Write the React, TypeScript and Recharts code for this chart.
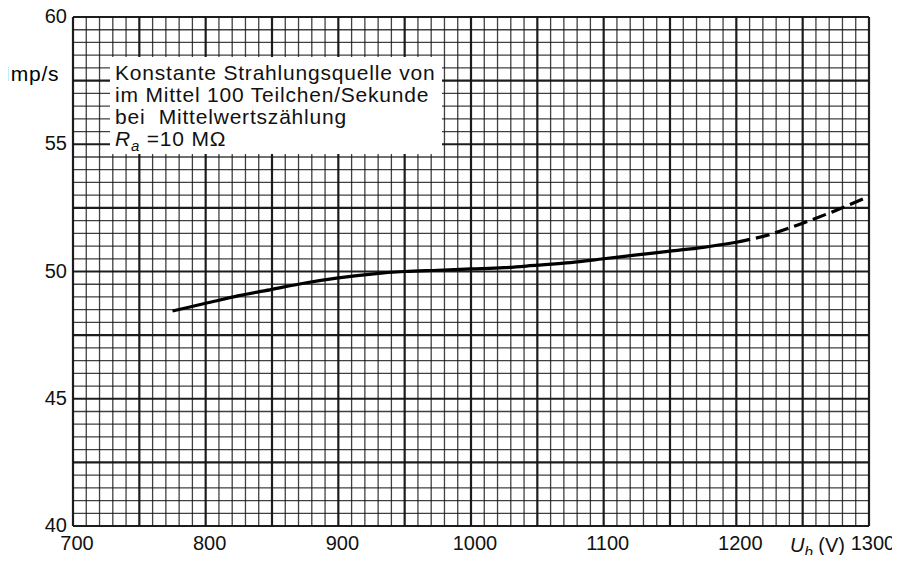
import React from "react";
import { LineChart, Line, XAxis, YAxis, ReferenceLine } from "recharts";

// Measured curve (solid part), Ub in V, counting rate in Imp/s
const voltsSolid = [775, 800, 825, 850, 875, 900, 925, 950, 975, 1000, 1025, 1050, 1075, 1100, 1125, 1150, 1175, 1200];
const impSolid = [48.45, 48.75, 49.05, 49.3, 49.55, 49.75, 49.9, 50.0, 50.05, 50.1, 50.15, 50.25, 50.35, 50.5, 50.65, 50.8, 50.95, 51.15];
// Extrapolated curve (dashed part)
const voltsDashed = [1200, 1225, 1250, 1275, 1300];
const impDashed = [51.15, 51.45, 51.9, 52.4, 52.95];

const xTicks = [700, 800, 900, 1000, 1100, 1200, 1300];
const yTicks = [40, 45, 50, 55, 60];

const annotationLines = [
  "Konstante Strahlungsquelle von",
  "im Mittel 100 Teilchen/Sekunde",
  "bei  Mittelwertszählung",
];

const solidData = voltsSolid.map((u, i) => ({ u, imp: impSolid[i] }));
const dashedData = voltsDashed.map((u, i) => ({ u, imp: impDashed[i] }));

const xGrid: number[] = [];
for (let v = 700; v <= 1300; v += 10) xGrid.push(v);
const yGrid: number[] = [];
for (let v = 40; v <= 60.001; v += 0.5) yGrid.push(Math.round(v * 10) / 10);

const FONT = "'Liberation Sans', Arial, sans-serif";
const INK = "#111";

const XTick = (props: any) => {
  const { x, y, payload } = props;
  return (
    <text x={x + 4} y={y + 16} textAnchor="middle" fontSize={20} fontFamily={FONT} fill={INK}>
      {payload.value}
    </text>
  );
};

const YTick = (props: any) => {
  const { y, payload } = props;
  return (
    <text x={67} y={y + 6} textAnchor="end" fontSize={20} fontFamily={FONT} fill={INK}>
      {payload.value}
    </text>
  );
};

const Sub = ({ children }: { children: React.ReactNode }) => (
  <span style={{ fontSize: 15, fontStyle: "italic", position: "relative", top: 5 }}>{children}</span>
);

export default function App() {
  return (
    <div style={{ margin: -8, width: 900, height: 563, position: "relative", background: "#fff", overflow: "hidden" }}>
      <LineChart width={900} height={563} margin={{ top: 17, right: 31, bottom: 0, left: 0 }}>
        <XAxis
          type="number"
          dataKey="u"
          domain={[700, 1300]}
          ticks={xTicks}
          height={37}
          axisLine={false}
          tickLine={false}
          tick={<XTick />}
          allowDataOverflow
        />
        <YAxis
          type="number"
          domain={[40, 60]}
          ticks={yTicks}
          width={73}
          axisLine={false}
          tickLine={false}
          tick={<YTick />}
          allowDataOverflow
        />
        {xGrid.map((v) => (
          <ReferenceLine
            key={"x" + v}
            x={v}
            stroke={INK}
            strokeWidth={v % 50 === 0 ? 2.2 : 1.3}
            strokeOpacity={v % 50 === 0 ? 0.95 : 0.8}
            ifOverflow="visible"
          />
        ))}
        {yGrid.map((v) => (
          <ReferenceLine
            key={"y" + v}
            y={v}
            stroke={INK}
            strokeWidth={Math.abs(v / 2.5 - Math.round(v / 2.5)) < 1e-6 ? 2.2 : 1.3}
            strokeOpacity={Math.abs(v / 2.5 - Math.round(v / 2.5)) < 1e-6 ? 0.95 : 0.8}
            ifOverflow="visible"
          />
        ))}
        <Line
          data={solidData}
          dataKey="imp"
          type="monotone"
          stroke="#000"
          strokeWidth={3.2}
          dot={false}
          isAnimationActive={false}
        />
        <Line
          data={dashedData}
          dataKey="imp"
          type="monotone"
          stroke="#000"
          strokeWidth={3.2}
          strokeDasharray="14 6"
          dot={false}
          isAnimationActive={false}
        />
      </LineChart>

      <div
        style={{
          position: "absolute",
          left: 4,
          top: 62,
          fontFamily: FONT,
          fontSize: 21,
          lineHeight: "24px",
          color: "#000",
          letterSpacing: 0.8,
          whiteSpace: "pre",
        }}
      >
        {"Imp/s"}
      </div>

      <div
        style={{
          position: "absolute",
          left: 110,
          top: 57,
          width: 332,
          height: 97,
          background: "#fff",
          fontFamily: FONT,
          fontSize: 21,
          letterSpacing: 0.8,
          lineHeight: "22px",
          color: INK,
          paddingLeft: 5,
          paddingTop: 5,
          boxSizing: "border-box",
          whiteSpace: "pre",
        }}
      >
        {annotationLines.map((t) => (
          <div key={t}>{t}</div>
        ))}
        <div>
          <i>R</i>
          <Sub>a</Sub>
          {" =10 MΩ"}
        </div>
      </div>

      <div
        style={{
          position: "absolute",
          left: 790,
          top: 534,
          fontFamily: FONT,
          fontSize: 20,
          lineHeight: "22px",
          color: INK,
          whiteSpace: "pre",
        }}
      >
        <i>U</i>
        <Sub>b</Sub>
        {" (V)"}
      </div>
    </div>
  );
}
